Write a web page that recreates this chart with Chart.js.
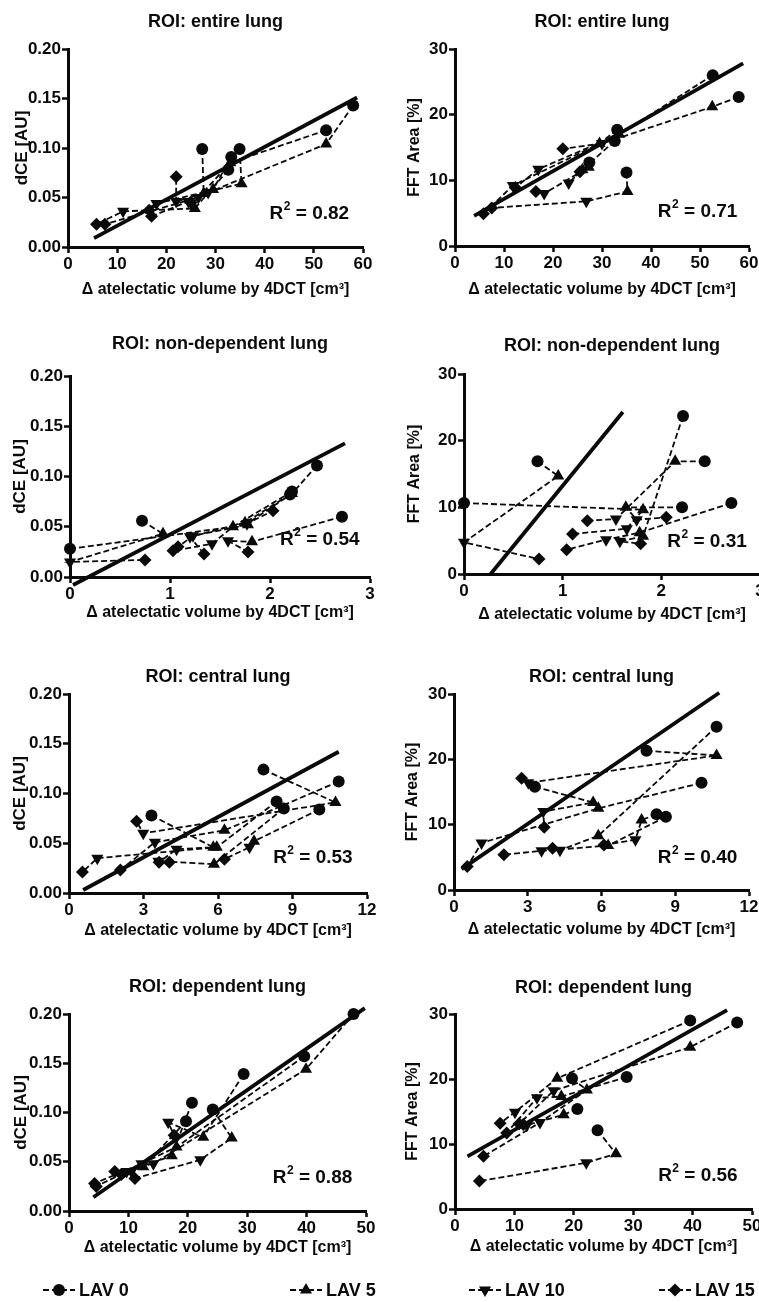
<!DOCTYPE html>
<html>
<head>
<meta charset="utf-8">
<script src="https://cdn.jsdelivr.net/npm/chart.js@4.4.1/dist/chart.umd.min.js"></script>
<style>
  html, body { margin:0; padding:0; background:#fff; width:759px; height:1302px; overflow:hidden; }
  .panel { position:absolute; }
</style>
</head>
<body>
<div class="panel" style="left:0;top:0"><canvas id="c1" width="380" height="320"></canvas></div>
<div class="panel" style="left:380px;top:0"><canvas id="c2" width="400" height="320"></canvas></div>
<div class="panel" style="left:0;top:320px"><canvas id="c3" width="380" height="320"></canvas></div>
<div class="panel" style="left:380px;top:320px"><canvas id="c4" width="400" height="320"></canvas></div>
<div class="panel" style="left:0;top:640px"><canvas id="c5" width="380" height="320"></canvas></div>
<div class="panel" style="left:380px;top:640px"><canvas id="c6" width="400" height="320"></canvas></div>
<div class="panel" style="left:0;top:960px"><canvas id="c7" width="380" height="342"></canvas></div>
<div class="panel" style="left:380px;top:960px"><canvas id="c8" width="400" height="342"></canvas></div>
<script>
// ------------------ DATA ------------------
// one [x, y] per animal; the same index in every LAV array is the same animal
const lavLabels = ["LAV 0", "LAV 5", "LAV 10", "LAV 15"];

// ROI entire lung, dCE
const entDce0  = [[27.3,0.099],[33.2,0.091],[34.9,0.099],[32.6,0.078],[52.5,0.118],[58.0,0.143]];
const entDce5  = [[27.6,0.054],[29.5,0.058],[35.3,0.064],[25.8,0.039],[33.0,0.085],[52.5,0.104]];
const entDce10 = [[22.0,0.046],[24.5,0.046],[18.0,0.044],[11.2,0.036],[26.5,0.050],[28.5,0.055]];
const entDce15 = [[22.0,0.071],[17.0,0.031],[16.5,0.037],[5.8,0.023],[7.5,0.023],[25.0,0.045]];
const entDceFit = [[5.3,0.009],[58.8,0.151]];

// ROI entire lung, FFT area
const entFft0  = [[52.6,26.0],[57.9,22.7],[33.1,17.7],[32.6,16.0],[27.4,12.7],[35.0,11.2]];
const entFft5  = [[33.5,17.0],[52.5,21.2],[29.5,15.6],[26.0,11.6],[27.3,12.0],[35.2,8.3]];
const entFft10 = [[17.0,11.7],[30.0,15.6],[11.8,9.2],[23.2,9.6],[18.2,8.0],[26.8,6.8]];
const entFft15 = [[12.3,8.9],[22.0,14.8],[5.8,4.9],[25.5,11.3],[16.5,8.3],[7.5,5.8]];
const entFftFit = [[3.9,4.6],[58.8,27.8]];

// ROI non-dependent lung, dCE
const ndDce0  = [[0.72,0.056],[0.0,0.028],[2.72,0.060],[2.47,0.111],[2.22,0.085],[2.20,0.082]];
const ndDce5  = [[0.93,0.043],[1.78,0.052],[1.82,0.035],[2.22,0.083],[1.63,0.050],[1.75,0.054]];
const ndDce10 = [[0.0,0.015],[1.23,0.041],[1.58,0.036],[1.77,0.053],[1.42,0.033],[1.20,0.040]];
const ndDce15 = [[0.75,0.017],[1.08,0.030],[1.78,0.025],[2.03,0.066],[1.03,0.026],[1.34,0.023]];
const ndDceFit = [[0.03,-0.008],[2.75,0.133]];

// ROI non-dependent lung, FFT area
const ndFft0  = [[0.745,16.9],[0.0,10.65],[2.21,10.0],[2.22,23.7],[2.44,16.9],[2.71,10.65]];
const ndFft5  = [[0.955,14.7],[1.815,9.65],[1.64,10.0],[1.815,5.65],[2.14,16.9],[1.78,6.2]];
const ndFft10 = [[0.0,4.75],[1.65,6.8],[1.75,8.15],[1.58,4.9],[1.54,8.25],[1.44,5.15]];
const ndFft15 = [[0.76,2.25],[1.1,6.0],[2.05,8.5],[1.79,4.55],[1.25,8.0],[1.04,3.65]];
const ndFftFit = [[0.27,0.0],[1.61,24.3]];

// ROI central lung, dCE
const cenDce0  = [[7.83,0.124],[3.32,0.078],[10.86,0.112],[8.36,0.092],[10.08,0.084],[8.65,0.085]];
const cenDce5  = [[10.73,0.091],[5.81,0.046],[6.26,0.063],[5.95,0.046],[7.45,0.052],[5.84,0.029]];
const cenDce10 = [[2.99,0.060],[4.33,0.044],[3.46,0.051],[1.14,0.035],[7.27,0.046],[3.60,0.032]];
const cenDce15 = [[2.72,0.072],[3.63,0.031],[2.07,0.023],[0.54,0.021],[6.26,0.034],[4.04,0.031]];
const cenDceFit = [[0.57,0.003],[10.86,0.142]];

// ROI central lung, FFT area
const cenFft0  = [[10.68,25.0],[7.83,21.3],[3.29,15.8],[10.07,16.4],[8.24,11.6],[8.62,11.2]];
const cenFft5  = [[5.87,8.3],[10.68,20.6],[5.66,13.4],[5.87,12.5],[7.63,10.7],[6.27,6.8]];
const cenFft10 = [[4.31,6.1],[3.02,16.4],[3.63,12.0],[1.12,7.2],[7.38,7.7],[3.56,6.0]];
const cenFft15 = [[4.01,6.4],[2.75,17.1],[3.67,9.6],[0.54,3.6],[6.10,6.9],[2.03,5.4]];
const cenFftFit = [[0.31,3.2],[10.79,30.2]];

// ROI dependent lung, dCE
const depDce0  = [[47.9,0.200],[39.6,0.157],[29.4,0.139],[24.2,0.103],[20.7,0.110],[19.7,0.091]];
const depDce5  = [[39.9,0.144],[18.1,0.065],[22.6,0.075],[27.4,0.074],[17.3,0.056],[12.5,0.045]];
const depDce10 = [[14.2,0.048],[12.2,0.048],[16.7,0.090],[22.1,0.052],[9.7,0.040],[10.5,0.040]];
const depDce15 = [[7.7,0.040],[4.3,0.028],[17.7,0.077],[11.1,0.033],[4.6,0.025],[8.8,0.037]];
const depDceFit = [[4.1,0.014],[49.8,0.206]];

// ROI dependent lung, FFT area
const depFft0  = [[39.6,29.0],[47.5,28.7],[28.9,20.3],[19.7,20.1],[20.6,15.4],[24.0,12.1]];
const depFft5  = [[17.2,20.1],[39.6,24.9],[17.9,17.3],[22.2,18.3],[18.3,14.5],[27.1,8.5]];
const depFft10 = [[10.1,14.9],[16.6,18.2],[13.8,17.1],[14.3,13.3],[12.1,12.9],[22.1,7.1]];
const depFft15 = [[7.6,13.2],[10.8,13.1],[8.7,11.7],[4.8,8.1],[11.5,13.0],[4.1,4.3]];
const depFftFit = [[2.1,8.1],[45.8,30.6]];

const r2Values = ["0.82", "0.71", "0.54", "0.31", "0.53", "0.40", "0.88", "0.56"];

// tick labels
const dceTicks = [0, 0.05, 0.10, 0.15, 0.20];
const fftTicks = [0, 10, 20, 30];
const xTicksEntire = [0, 10, 20, 30, 40, 50, 60];
const xTicksNonDep = [0, 1, 2, 3];
const xTicksCentral = [0, 3, 6, 9, 12];
const xTicksDep = [0, 10, 20, 30, 40, 50];

// ------------------ STYLE ------------------
const FONT = '"Liberation Sans", Arial, Helvetica, sans-serif';
const INK = "#0a0a0a";
const markerStyles = [
  { pointStyle:"circle",   radius:6,   rotation:0 },
  { pointStyle:"triangle", radius:7,   rotation:0 },
  { pointStyle:"triangle", radius:7,   rotation:180 },
  { pointStyle:"rectRot",  radius:6.5, rotation:0 }
];
const xTitle = "\u0394 atelectatic volume by 4DCT [cm\u00B3]";

// ------------------ PLUGINS ------------------
const r2Label = {
  id:"r2Label",
  afterDatasetsDraw(chart, args, opts){
    const {ctx, scales:{x, y}} = chart;
    let px = x.getPixelForValue(opts.at[0]);
    const py = y.getPixelForValue(opts.at[1]);
    ctx.save();
    ctx.fillStyle = INK;
    ctx.textBaseline = "middle";
    ctx.textAlign = "left";
    ctx.font = "bold 19px " + FONT;
    ctx.fillText("R", px, py);
    px += ctx.measureText("R").width + 0.5;
    ctx.font = "bold 12px " + FONT;
    ctx.fillText("2", px, py - 7);
    px += ctx.measureText("2").width;
    ctx.font = "bold 19px " + FONT;
    ctx.fillText(" = " + opts.value, px, py);
    ctx.restore();
  }
};

const lavLegend = {
  id:"lavLegend",
  afterDraw(chart, args, opts){
    if(!opts.items) return;
    const ctx = chart.ctx;
    ctx.save();
    opts.items.forEach(it=>{
      const st = markerStyles[it.index];
      ctx.strokeStyle = INK; ctx.lineWidth = 2; ctx.setLineDash([6,3]);
      ctx.beginPath(); ctx.moveTo(it.x - 16, opts.y); ctx.lineTo(it.x + 16, opts.y); ctx.stroke();
      ctx.setLineDash([]);
      ctx.fillStyle = INK;
      Chart.helpers.drawPoint(ctx, { pointStyle:st.pointStyle, radius:st.radius, rotation:st.rotation, borderWidth:0 }, it.x, opts.y);
      ctx.font = "bold 18px " + FONT;
      ctx.textBaseline = "middle"; ctx.textAlign = "left";
      ctx.fillText(lavLabels[it.index], it.x + 20, opts.y + 1);
    });
    ctx.restore();
  }
};

// ------------------ BUILD ------------------
function pts(arr){ return arr.map(([x,y])=>({x, y})); }

function buildDatasets(lavs, fit){
  const markers = lavs.map((arr,k)=>({
    label: lavLabels[k], data: pts(arr), showLine:false,
    pointStyle: markerStyles[k].pointStyle, pointRadius: markerStyles[k].radius,
    pointRotation: markerStyles[k].rotation,
    pointBackgroundColor: INK, pointBorderColor: INK, pointBorderWidth: 0, clip:false
  }));
  const fitLine = { label:"fit", data: pts(fit), showLine:true, borderColor:INK, borderWidth:3.8, pointRadius:0, clip:false };
  const animals = lavs[0].map((_,i)=>({
    label:"animal " + (i+1), data: pts(lavs.map(a=>a[i])), showLine:true,
    borderColor:INK, borderWidth:1.8, borderDash:[6,3], pointRadius:0, clip:false
  }));
  return [...markers, fitLine, ...animals];
}

function makePanel(id, p){
  const canvas = document.getElementById(id);
  const W = canvas.width, H = canvas.height;
  const tickFont = { family:FONT, size:17, weight:"bold" };
  return new Chart(canvas, {
    type:"scatter",
    data:{ datasets: buildDatasets(p.lavs, p.fit) },
    plugins:[r2Label, lavLegend],
    options:{
      responsive:false, animation:false, events:[],
      layout:{ autoPadding:false, padding:{ left:0, top:0, bottom:0, right: W - p.area.right } },
      plugins:{
        legend:{ display:false }, tooltip:{ enabled:false },
        title:{ display:true, text:p.title, color:INK, fullSize:false,
          font:{ family:FONT, size:18, weight:"bold", lineHeight:1.2 },
          padding:{ top: p.titleY - 10.8, bottom: p.area.top - p.titleY - 10.8 } },
        r2Label:{ value:p.r2, at:p.r2At },
        lavLegend: p.legend || {}
      },
      scales:{
        x:{
          type:"linear", min:p.xTicks[0], max:p.xTicks[p.xTicks.length-1],
          afterFit(s){ s.height = H - p.area.bottom; },
          afterBuildTicks(s){ s.ticks = p.xTicks.map(v=>({value:v})); },
          ticks:{ color:INK, font:tickFont, padding:1, maxRotation:0, autoSkip:false },
          grid:{ drawOnChartArea:false, drawTicks:true, tickLength:6, tickWidth:2.5, tickColor:INK },
          border:{ display:true, color:INK, width:3 },
          title:{ display:true, text:xTitle, color:INK,
            font:{ family:FONT, size:16, weight:"bold", lineHeight:1.2 },
            padding:{ top:0, bottom: H - p.xTitleY - 9.6 } }
        },
        y:{
          type:"linear", min:p.yTicks[0], max:p.yTicks[p.yTicks.length-1],
          afterFit(s){ s.width = p.area.left; },
          afterBuildTicks(s){ s.ticks = p.yTicks.map(v=>({value:v})); },
          ticks:{ color:INK, font:tickFont, padding:1, autoSkip:false,
            callback:(v)=> p.yDigits ? Number(v).toFixed(p.yDigits) : String(v) },
          grid:{ drawOnChartArea:false, drawTicks:true, tickLength:6, tickWidth:2.5, tickColor:INK },
          border:{ display:true, color:INK, width:3 },
          title:{ display:true, text:p.yTitle, color:INK,
            font:{ family:FONT, size:p.yTitleSize, weight:"bold", lineHeight:1.2 },
            padding:{ top: p.yTitleX - p.yTitleSize * 0.6, bottom:0 } }
        }
      }
    }
  });
}

const dceAxis = { yTicks:dceTicks, yDigits:2, yTitle:"dCE [AU]", yTitleSize:17 };
const fftAxis = { yTicks:fftTicks, yDigits:0, yTitle:"FFT Area [%]", yTitleSize:16 };

makePanel("c1", { ...dceAxis, title:"ROI: entire lung", xTicks:xTicksEntire,
  lavs:[entDce0, entDce5, entDce10, entDce15], fit:entDceFit, r2:r2Values[0], r2At:[41, 0.034],
  area:{ left:68, right:363, top:49, bottom:247 }, titleY:22, yTitleX:22, xTitleY:290 });
makePanel("c2", { ...fftAxis, title:"ROI: entire lung", xTicks:xTicksEntire,
  lavs:[entFft0, entFft5, entFft10, entFft15], fit:entFftFit, r2:r2Values[1], r2At:[41.4, 5.2],
  area:{ left:75, right:369, top:49, bottom:246 }, titleY:22, yTitleX:35, xTitleY:290 });
makePanel("c3", { ...dceAxis, title:"ROI: non-dependent lung", xTicks:xTicksNonDep,
  lavs:[ndDce0, ndDce5, ndDce10, ndDce15], fit:ndDceFit, r2:r2Values[2], r2At:[2.1, 0.037],
  area:{ left:70, right:370, top:56, bottom:257 }, titleY:24, yTitleX:20, xTitleY:293 });
makePanel("c4", { ...fftAxis, title:"ROI: non-dependent lung", xTicks:xTicksNonDep,
  lavs:[ndFft0, ndFft5, ndFft10, ndFft15], fit:ndFftFit, r2:r2Values[3], r2At:[2.06, 4.85],
  area:{ left:84, right:380, top:54, bottom:254 }, titleY:26, yTitleX:35, xTitleY:295 });
makePanel("c5", { ...dceAxis, title:"ROI: central lung", xTicks:xTicksCentral,
  lavs:[cenDce0, cenDce5, cenDce10, cenDce15], fit:cenDceFit, r2:r2Values[4], r2At:[8.22, 0.0355],
  area:{ left:69, right:367, top:54, bottom:253 }, titleY:37, yTitleX:20, xTitleY:291 });
makePanel("c6", { ...fftAxis, title:"ROI: central lung", xTicks:xTicksCentral,
  lavs:[cenFft0, cenFft5, cenFft10, cenFft15], fit:cenFftFit, r2:r2Values[5], r2At:[8.29, 5.0],
  area:{ left:74, right:369, top:54, bottom:250 }, titleY:37, yTitleX:33, xTitleY:290 });
makePanel("c7", { ...dceAxis, title:"ROI: dependent lung", xTicks:xTicksDep,
  lavs:[depDce0, depDce5, depDce10, depDce15], fit:depDceFit, r2:r2Values[6], r2At:[34.3, 0.0336],
  area:{ left:69, right:366, top:54, bottom:251 }, titleY:27, yTitleX:21, xTitleY:288,
  legend:{ y:330, items:[{ index:0, x:59 }, { index:1, x:306 }] } });
makePanel("c8", { ...fftAxis, title:"ROI: dependent lung", xTicks:xTicksDep,
  lavs:[depFft0, depFft5, depFft10, depFft15], fit:depFftFit, r2:r2Values[7], r2At:[34.2, 5.1],
  area:{ left:75, right:372, top:54, bottom:249 }, titleY:28, yTitleX:33, xTitleY:287,
  legend:{ y:330, items:[{ index:2, x:105 }, { index:3, x:295 }] } });
</script>
</body>
</html>
